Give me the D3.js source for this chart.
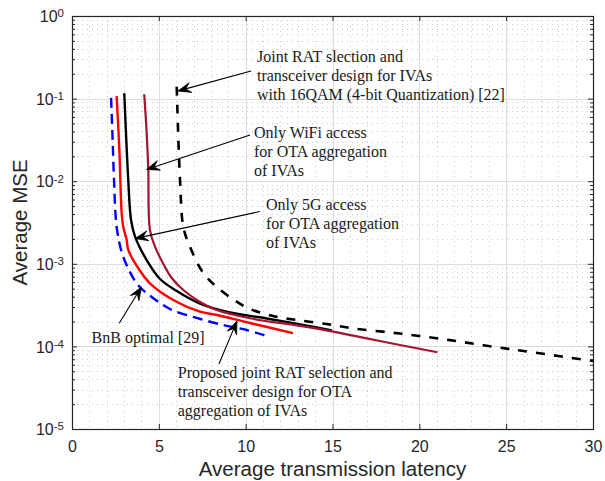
<!DOCTYPE html>
<html>
<head>
<meta charset="utf-8">
<script src="https://cdn.jsdelivr.net/npm/d3@7/dist/d3.min.js"></script>
<style>
  html, body { margin: 0; padding: 0; background: #ffffff; }
  svg { display: block; }
</style>
</head>
<body>
<svg id="chart" width="605" height="481"></svg>
<script>
// ---- Data: average transmission latency (x) vs. average MSE (y) ----
const bnbLatency = [2.25, 2.34, 2.42, 2.57, 2.86, 3.28, 3.80, 4.59, 5.64, 7.18, 8.69, 10.06, 11.21];
const bnbMse     = [0.102, 0.0315, 0.0103, 2.81e-3, 1.39e-3, 8.41e-4, 5.54e-4, 3.96e-4, 2.84e-4, 2.21e-4, 1.82e-4, 1.58e-4, 1.34e-4];

const proposedLatency = [2.57, 2.72, 2.86, 2.95, 3.15, 3.24, 3.82, 4.49, 5.83, 7.37, 8.33, 10.25, 12.72];
const proposedMse     = [0.107, 0.0262, 4.12e-3, 2.81e-3, 1.94e-3, 1.47e-3, 8.83e-4, 5.81e-4, 3.65e-4, 2.63e-4, 2.40e-4, 1.92e-4, 1.45e-4];

const only5gLatency = [3.01, 3.24, 3.40, 3.63, 4.30, 5.07, 6.03, 7.37, 9.10, 11.21, 13.13, 14.97];
const only5gMse     = [0.116, 0.0103, 3.39e-3, 2.13e-3, 1.11e-3, 6.55e-4, 4.69e-4, 3.30e-4, 2.57e-4, 2.18e-4, 1.85e-4, 1.56e-4];

const onlyWifiLatency = [4.16, 4.29, 4.39, 4.49, 4.78, 5.26, 5.74, 6.41, 7.37, 8.33, 10.25, 13.13, 15.04, 16.97, 18.88, 21.04];
const onlyWifiMse     = [0.113, 0.0417, 0.0143, 2.56e-3, 1.61e-3, 9.95e-4, 6.73e-4, 4.82e-4, 3.45e-4, 2.76e-4, 2.19e-4, 1.77e-4, 1.51e-4, 1.25e-4, 1.04e-4, 8.5e-5];

const qam16Latency = [6.03, 6.22, 6.41, 6.79, 7.56, 8.33, 9.48, 10.25, 11.69, 13.13, 14.85, 16.00, 18.88, 21.76, 24.25, 26.66, 30.0];
const qam16Mse     = [0.139, 0.0103, 2.81e-3, 1.61e-3, 7.74e-4, 5.24e-4, 3.48e-4, 2.84e-4, 2.30e-4, 2.06e-4, 1.84e-4, 1.67e-4, 1.43e-4, 1.19e-4, 9.9e-5, 8.4e-5, 6.65e-5];

// ---- Axis ticks ----
const xTickValues = [0, 5, 10, 15, 20, 25, 30];
const yTickExponents = [0, -1, -2, -3, -4, -5];

// ---- Annotation texts ----
const noteQam16Lines    = ["Joint RAT slection and", "transceiver design for IVAs", "with 16QAM (4-bit Quantization) [22]"];
const noteWifiLines     = ["Only WiFi access", "for OTA aggregation", "of IVAs"];
const note5gLines       = ["Only 5G access", "for OTA aggregation", "of IVAs"];
const noteBnbLines      = ["BnB optimal [29]"];
const noteProposedLines = ["Proposed joint RAT selection and", "transceiver design for OTA", "aggregation of IVAs"];

// ---- Layout ----
const svg = d3.select("#chart");
const plot = { left: 72, right: 593, top: 16, bottom: 429 };

const x = d3.scaleLinear().domain([0, 30]).range([plot.left, plot.right]);
const y = d3.scaleLog().domain([1e-5, 1]).range([plot.bottom, plot.top]);

const axisColor = "#262626";
const sansFont = "'Liberation Sans', Arial, Helvetica, sans-serif";
const serifFont = "'Liberation Serif', 'Times New Roman', serif";

const crisp = v => Math.round(v) + 0.5;

// ---- Grid ----
const grid = svg.append("g").attr("class", "grid");

const xMinor = d3.range(0, 31).filter(v => v % 5 !== 0);
const yMinor = [];
for (let e = -5; e < 0; e++) for (let k = 2; k <= 9; k++) yMinor.push(k * Math.pow(10, e));
const yMajor = yTickExponents.map(e => Math.pow(10, e));

grid.selectAll("line.xminor").data(xMinor).join("line")
  .attr("class", "xminor")
  .attr("x1", d => crisp(x(d))).attr("x2", d => crisp(x(d)))
  .attr("y1", plot.top).attr("y2", plot.bottom)
  .attr("stroke", "#cdcdcd").attr("stroke-width", 1).attr("stroke-dasharray", "1,4");

grid.selectAll("line.yminor").data(yMinor).join("line")
  .attr("class", "yminor")
  .attr("x1", plot.left).attr("x2", plot.right)
  .attr("y1", d => crisp(y(d))).attr("y2", d => crisp(y(d)))
  .attr("stroke", "#cdcdcd").attr("stroke-width", 1).attr("stroke-dasharray", "1,4");

grid.selectAll("line.xmajor").data(xTickValues).join("line")
  .attr("class", "xmajor")
  .attr("x1", d => crisp(x(d))).attr("x2", d => crisp(x(d)))
  .attr("y1", plot.top).attr("y2", plot.bottom)
  .attr("stroke", "#dedede").attr("stroke-width", 1);

grid.selectAll("line.ymajor").data(yMajor).join("line")
  .attr("class", "ymajor")
  .attr("x1", plot.left).attr("x2", plot.right)
  .attr("y1", d => crisp(y(d))).attr("y2", d => crisp(y(d)))
  .attr("stroke", "#dedede").attr("stroke-width", 1);

// ---- Curves ----
const line = d3.line()
  .x(d => x(d[0]))
  .y(d => y(d[1]))
  .curve(d3.curveCatmullRom.alpha(0.5));

const series = [
  { lat: bnbLatency,      mse: bnbMse,      color: "#0000ff", width: 2.4, dash: "10,6" },
  { lat: proposedLatency, mse: proposedMse, color: "#ff0000", width: 2.4, dash: null },
  { lat: only5gLatency,   mse: only5gMse,   color: "#000000", width: 2.4, dash: null },
  { lat: onlyWifiLatency, mse: onlyWifiMse, color: "#a2142f", width: 2.2, dash: null },
  { lat: qam16Latency,    mse: qam16Mse,    color: "#000000", width: 2.6, dash: "9,9" }
];

const curves = svg.append("g").attr("class", "curves");
series.forEach(s => {
  curves.append("path")
    .datum(s.lat.map((v, i) => [v, s.mse[i]]))
    .attr("d", line)
    .attr("fill", "none")
    .attr("stroke", s.color)
    .attr("stroke-width", s.width)
    .attr("stroke-dasharray", s.dash)
    .attr("stroke-linejoin", "round");
});

// ---- Axes (ticks point inward, box on all sides) ----
const axes = svg.append("g").attr("class", "axes");

const xAxisBottom = d3.axisBottom(x).tickValues(xTickValues).tickSizeInner(-5).tickSizeOuter(0).tickPadding(12);
const gxb = axes.append("g").attr("transform", `translate(0,${plot.bottom})`).call(xAxisBottom);
gxb.select(".domain").remove();
gxb.selectAll(".tick line").attr("stroke", axisColor);
gxb.selectAll(".tick text")
  .attr("fill", axisColor).attr("font-family", sansFont).attr("font-size", 16);

const xAxisTop = d3.axisTop(x).tickValues(xTickValues).tickSizeInner(-5).tickSizeOuter(0).tickFormat("");
const gxt = axes.append("g").attr("transform", `translate(0,${plot.top})`).call(xAxisTop);
gxt.select(".domain").remove();
gxt.selectAll(".tick line").attr("stroke", axisColor);

function yTicks(axisFn, offset, withLabels) {
  const gMinor = axes.append("g").attr("transform", `translate(${offset},0)`)
    .call(axisFn(y).tickValues(yMinor).tickSizeInner(-3).tickSizeOuter(0).tickFormat(""));
  gMinor.select(".domain").remove();
  gMinor.selectAll(".tick line").attr("stroke", axisColor);

  const gMajor = axes.append("g").attr("transform", `translate(${offset},0)`)
    .call(axisFn(y).tickValues(yMajor).tickSizeInner(-5).tickSizeOuter(0).tickPadding(8).tickFormat(""));
  gMajor.select(".domain").remove();
  gMajor.selectAll(".tick line").attr("stroke", axisColor);

  if (withLabels) {
    gMajor.selectAll(".tick text").each(function (d) {
      const t = d3.select(this)
        .attr("fill", axisColor)
        .attr("font-family", sansFont)
        .attr("font-size", 16)
        .attr("dy", "0.36em")
        .text("10");
      t.append("tspan")
        .attr("dy", "-0.42em")
        .attr("font-size", 11.5)
        .text(String(Math.round(Math.log10(d))));
    });
  }
}
yTicks(d3.axisLeft, plot.left, true);
yTicks(d3.axisRight, plot.right, false);

axes.append("rect")
  .attr("x", plot.left + 0.5).attr("y", plot.top + 0.5)
  .attr("width", plot.right - plot.left).attr("height", plot.bottom - plot.top)
  .attr("fill", "none").attr("stroke", axisColor).attr("stroke-width", 1.2);

// ---- Axis titles ----
svg.append("text")
  .attr("x", (plot.left + plot.right) / 2).attr("y", 476)
  .attr("text-anchor", "middle")
  .attr("font-family", sansFont).attr("font-size", 20.5)
  .attr("fill", axisColor)
  .text("Average transmission latency");

svg.append("text")
  .attr("transform", `translate(26.5,${(plot.top + plot.bottom) / 2}) rotate(-90)`)
  .attr("text-anchor", "middle")
  .attr("font-family", sansFont).attr("font-size", 20.5)
  .attr("fill", axisColor)
  .text("Average MSE");

// ---- Annotations (text arrows, positions in data units) ----
const notes = [
  { lines: noteQam16Lines,    text: [10.65, 0.277],   tail: [10.31, 0.216],   tip: [6.10, 0.1236] },
  { lines: noteWifiLines,     text: [10.48, 0.0333],  tail: [10.25, 0.0362],  tip: [4.29, 0.01386] },
  { lines: note5gLines,       text: [11.17, 4.48e-3], tail: [10.82, 4.30e-3], tip: [3.63, 2.02e-3] },
  { lines: noteBnbLines,      text: [1.13, 1.09e-4],  tail: [2.72, 1.905e-4], tip: [4.00, 5.24e-4] },
  { lines: noteProposedLines, text: [6.09, 4.14e-5],  tail: [8.46, 6.12e-5],  tip: [9.50, 2.03e-4] }
];

const ann = svg.append("g").attr("class", "annotations");

function drawArrow(g, tail, tip) {
  const x1 = x(tail[0]), y1 = y(tail[1]);
  const x2 = x(tip[0]),  y2 = y(tip[1]);
  const a = Math.atan2(y2 - y1, x2 - x1);
  const L = 13, half = 5, notch = 8;
  const cos = Math.cos(a), sin = Math.sin(a);
  const pt = (u, v) => [x2 + u * cos - v * sin, y2 + u * sin + v * cos];
  const baseP = pt(-notch, 0);
  g.append("line")
    .attr("x1", x1).attr("y1", y1).attr("x2", baseP[0]).attr("y2", baseP[1])
    .attr("stroke", "#000").attr("stroke-width", 1.1);
  g.append("path")
    .attr("d", d3.line()([pt(0, 0), pt(-L, -half), pt(-notch, 0), pt(-L, half)]) + "Z")
    .attr("fill", "#000").attr("stroke", "#000").attr("stroke-width", 0.8)
    .attr("stroke-linejoin", "miter");
}

notes.forEach(n => {
  drawArrow(ann, n.tail, n.tip);
  const t = ann.append("text")
    .attr("x", x(n.text[0])).attr("y", y(n.text[1]))
    .attr("font-family", serifFont).attr("font-size", 16)
    .attr("fill", "#1a1a1a");
  n.lines.forEach((s, i) => {
    t.append("tspan")
      .attr("x", x(n.text[0]))
      .attr("dy", i === 0 ? 0 : 19.2)
      .text(s);
  });
});
</script>
</body>
</html>
